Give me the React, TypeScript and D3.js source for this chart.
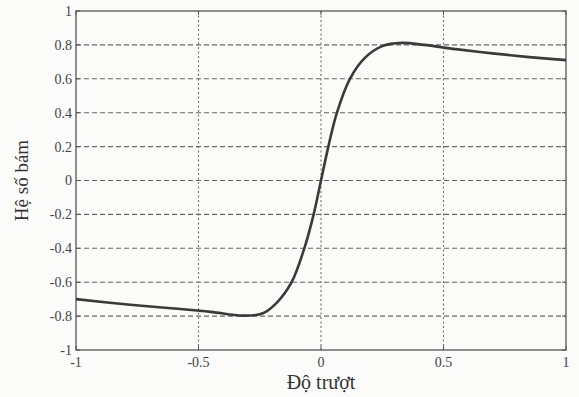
import React from "react";
import * as d3 from "d3";

// slip ratio vs adhesion coefficient
const slip = [-1, -0.8, -0.6, -0.45, -0.32, -0.24, -0.18, -0.12, -0.068, -0.03, 0,
  0.03, 0.065, 0.118, 0.18, 0.25, 0.33, 0.42, 0.55, 0.7, 0.85, 1];
const mu = [-0.7, -0.73, -0.755, -0.775, -0.797, -0.785, -0.72, -0.6, -0.4, -0.2, 0,
  0.2, 0.4, 0.6, 0.725, 0.793, 0.812, 0.8, 0.775, 0.75, 0.728, 0.71];

const xTicks = [-1, -0.5, 0, 0.5, 1];
const yTicks = [-1, -0.8, -0.6, -0.4, -0.2, 0, 0.2, 0.4, 0.6, 0.8, 1];
const xLabel = "Độ trượt";
const yLabel = "Hệ số bám";

export default function App() {
  const W = 579, H = 397;
  const m = { left: 76, right: 13, top: 11, bottom: 47 };
  const x = d3.scaleLinear().domain([-1, 1]).range([m.left, W - m.right]);
  const y = d3.scaleLinear().domain([-1, 1]).range([H - m.bottom, m.top]);
  const pts = slip.map((s, i) => [s, mu[i]] as [number, number]);
  const line = d3.line<[number, number]>()
    .x(d => x(d[0]))
    .y(d => y(d[1]))
    .curve(d3.curveCatmullRom.alpha(0.5));
  const font = "'Liberation Serif', 'DejaVu Serif', serif";
  const fmt = (v: number) => String(v);

  return (
    <svg width={W} height={H} style={{ position: "absolute", left: 0, top: 0, background: "#fbfbf9" }}>
      {/* grid */}
      {yTicks.slice(1, -1).map(t => (
        <line key={"gy" + t} x1={x(-1)} x2={x(1)} y1={y(t)} y2={y(t)}
          stroke="#666" strokeWidth={1.1} strokeDasharray="5,3" />
      ))}
      {xTicks.slice(1, -1).map(t => (
        <line key={"gx" + t} x1={x(t)} x2={x(t)} y1={y(1)} y2={y(-1)}
          stroke="#6e6e6e" strokeWidth={1.1} strokeDasharray="2,2.5" />
      ))}
      {/* tick marks */}
      {yTicks.map(t => (
        <g key={"ty" + t}>
          <line x1={x(-1)} x2={x(-1) + 4} y1={y(t)} y2={y(t)} stroke="#555" />
          <line x1={x(1)} x2={x(1) - 4} y1={y(t)} y2={y(t)} stroke="#555" />
          <text x={x(-1) - 4} y={y(t)} dy="0.35em" textAnchor="end" fontFamily={font} fontSize={14} fill="#444">
            {fmt(t)}
          </text>
        </g>
      ))}
      {xTicks.map(t => (
        <g key={"tx" + t}>
          <line x1={x(t)} x2={x(t)} y1={y(-1)} y2={y(-1) - 4} stroke="#555" />
          <line x1={x(t)} x2={x(t)} y1={y(1)} y2={y(1) + 4} stroke="#555" />
          <text x={x(t)} y={y(-1) + 17} textAnchor="middle" fontFamily={font} fontSize={14} fill="#444">
            {fmt(t)}
          </text>
        </g>
      ))}
      {/* frame */}
      <rect x={x(-1)} y={y(1)} width={x(1) - x(-1)} height={y(-1) - y(1)} fill="none" stroke="#555" strokeWidth={1.3} />
      {/* curve */}
      <path d={line(pts) || ""} fill="none" stroke="#3a3a3a" strokeWidth={2.6} strokeLinejoin="round" />
      {/* axis labels */}
      <text x={(x(-1) + x(1)) / 2} y={H - 8} textAnchor="middle" fontFamily={font} fontSize={20} fill="#333">
        {xLabel}
      </text>
      <text transform={`translate(28,${(y(-1) + y(1)) / 2}) rotate(-90)`} textAnchor="middle" fontFamily={font} fontSize={19} fill="#333">
        {yLabel}
      </text>
    </svg>
  );
}
